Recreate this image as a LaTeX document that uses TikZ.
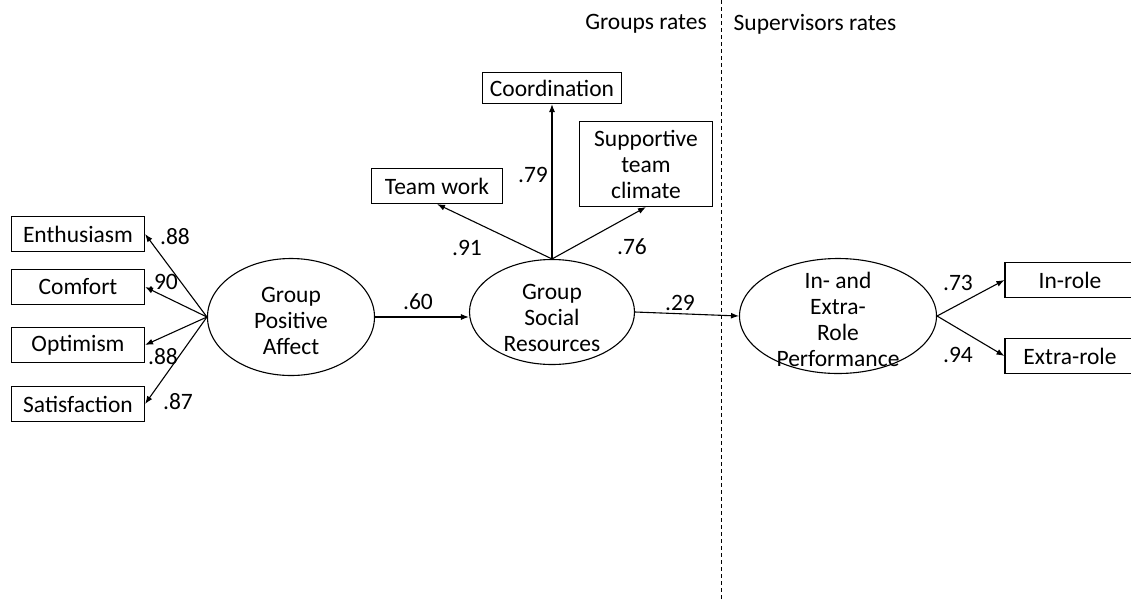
\documentclass[tikz,border=0pt]{standalone}
\usepackage{fontspec}
\setmainfont{Carlito}
\usetikzlibrary{shapes.geometric,arrows.meta}
\begin{document}
\begin{tikzpicture}[x=1pt,y=-1pt,
  every node/.style={font=\fontsize{23.5}{26}\selectfont},
  obs/.style={draw,line width=1.1pt,rectangle,inner sep=0pt,align=center},
  lat/.style={draw,line width=1.1pt,ellipse,inner sep=0pt},
  lattext/.style={inner sep=0pt,align=center},
  conn/.style={line width=1.1pt,-{Latex[length=8pt,width=6pt]}},
  lab/.style={inner sep=0pt}]
\useasboundingbox (0,0) rectangle (1131,600);
% divider
\draw[line width=1pt,dash pattern=on 4pt off 3pt] (721,0) -- (721,600);
\node[lab] (hg) at (646,24) {Groups rates};
\node[lab] (hs) at (815,24) {Supervisors rates};
% indicators left
\node[obs,minimum width=133pt,minimum height=35pt] (enth) at (78,234) {Enthusiasm};
\node[obs,minimum width=133pt,minimum height=35pt] (comf) at (78,287) {Comfort};
\node[obs,minimum width=133pt,minimum height=35pt] (opti) at (78,345) {Optimism};
\node[obs,minimum width=133pt,minimum height=35pt] (sati) at (78,404) {Satisfaction};
% latents
\node[lat,minimum width=167pt,minimum height=117pt] (gpa) at (291,317) {};
\node[lattext] (gpat) at ([yshift=-4pt]gpa.center) {Group\\Positive\\Affect};
\node[lat,minimum width=165pt,minimum height=105pt] (gsr) at (552,312) {};
\node[lattext] (gsrt) at ([yshift=-6pt]gsr.center) {Group\\Social\\Resources};
\node[lat,minimum width=197pt,minimum height=115pt] (ierp) at (838,316) {};
\node[lattext] (ierpt) at ([yshift=-3pt]ierp.center) {In- and\\Extra-\\Role\\Performance};
% indicators of GSR
\node[obs,minimum width=131pt,minimum height=35pt] (team) at (437,186) {Team work};
\node[obs,minimum width=139pt,minimum height=31pt] (coor) at (552,88) {Coordination};
\node[obs,minimum width=133pt,minimum height=85pt] (supp) at (646,164) {Supportive\\team\\climate};
% indicators of IERP
\node[obs,minimum width=130pt,minimum height=35pt] (inro) at (1070,280) {In-role};
\node[obs,minimum width=130pt,minimum height=35pt] (exro) at (1070,356) {Extra-role};
% connectors
\draw[conn] (gpa.west) -- (enth.east);
\draw[conn] (gpa.west) -- (comf.east);
\draw[conn] (gpa.west) -- (opti.east);
\draw[conn] (gpa.west) -- (sati.east);
\draw[conn] (gpa.east) -- (gsr.west |- gpa.east);
\draw[conn] (gsr.north) -- (team.south);
\draw[conn] (gsr.north) -- (coor.south);
\draw[conn] (gsr.north) -- (supp.south);
\draw[conn] (gsr.east) -- (ierp.west);
\draw[conn] (ierp.east) -- (inro.west);
\draw[conn] (ierp.east) -- (exro.west);
% labels
\node[lab] (l1) at (175,237) {.88};
\node[lab] (l2) at (163,282) {.90};
\node[lab] (l3) at (163,357) {.88};
\node[lab] (l4) at (178,402) {.87};
\node[lab] (l5) at (418,302) {.60};
\node[lab] (l6) at (467,248) {.91};
\node[lab] (l7) at (533,175) {.79};
\node[lab] (l8) at (632,247) {.76};
\node[lab] (l9) at (680,303) {.29};
\node[lab] (l10) at (958,283) {.73};
\node[lab] (l11) at (958,355) {.94};
\end{tikzpicture}
\end{document}
